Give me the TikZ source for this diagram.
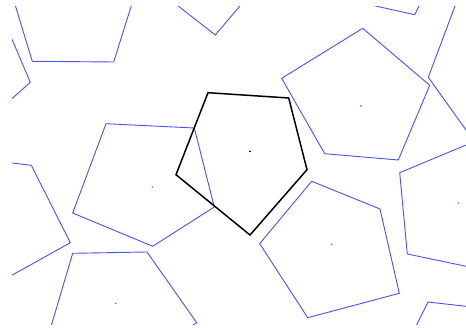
\documentclass[tikz,border=0pt]{standalone}
\definecolor{tileblue}{RGB}{72,82,245}
\tikzset{
  tile/.style={draw=tileblue, line width=0.9pt, line join=miter},
  maintile/.style={draw=black, line width=1.5pt, line join=miter},
  cdot/.style={fill=tileblue},
  cdotblack/.style={fill=black}
}
\begin{document}
\begin{tikzpicture}[x=1pt,y=-1pt]
\useasboundingbox (0,0) rectangle (466,328);
\begin{scope}
\clip (12,7) rectangle (466,324.5);
% top-left
\draw[tile] (10.6,-10) -- (32.3,61.3) -- (113.7,62) -- (136.2,-10);
% left edge upper
\draw[tile] (0,11.1) -- (30.3,82.3) -- (0,109.2);
% top middle
\draw[tile] (164,-5) -- (215.3,35) -- (249.2,-5);
% top right small
\draw[tile] (325.8,-5) -- (414.7,14.7) -- (424.5,-5);
% far right
\draw[tile] (459.1,-5) -- (428.3,77.3) -- (480,149.6);
% right pentagon
\draw[tile] (362.7,28.3) -- (429.7,85.3) -- (398.3,160) -- (324.7,153.7) -- (281.7,78.3) -- cycle;
\fill[cdot] (361,106) circle (0.8);
% left centre pentagon
\draw[tile] (106,123.7) -- (194.3,128) -- (214.3,207) -- (152.7,246.3) -- (72.7,213) -- cycle;
\fill[cdot] (152.3,187) circle (0.8);
% left edge lower
\draw[tile] (0,161.5) -- (31.3,165.3) -- (70.3,242.7) -- (0,281.9);
% bottom left
\draw[tile] (47,340) -- (72.7,253.3) -- (147,252) -- (196.7,322.7) -- (180,333);
\fill[cdot] (115.7,303.3) circle (0.8);
% bottom middle
\draw[tile] (311.7,181.3) -- (380,209) -- (399.3,293.3) -- (307.7,317.7) -- (259.7,243.7) -- cycle;
\fill[cdot] (331.7,244.3) circle (0.8);
% right middle
\draw[tile] (480,139.2) -- (399.7,172.7) -- (407.3,254) -- (480,269.2);
\fill[cdot] (458.3,203) circle (0.8);
% bottom right
\draw[tile] (409.1,340) -- (428,302) -- (480,307.9);
% black pentagon
\draw[maintile] (208,92.7) -- (288.7,98) -- (307,169.7) -- (250,235) -- (176,174.7) -- cycle;
\fill[cdotblack] (250,151.3) circle (1);
\end{scope}
\end{tikzpicture}
\end{document}
